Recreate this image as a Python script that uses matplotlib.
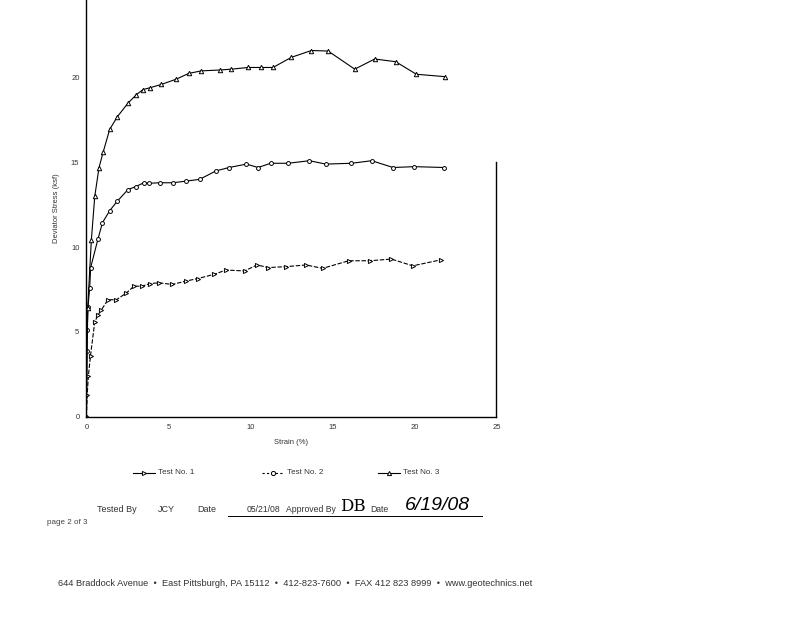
import matplotlib
matplotlib.use('Agg')
import matplotlib.pyplot as plt
from matplotlib.lines import Line2D

plt.rcParams['font.family'] = ['Liberation Sans', 'DejaVu Sans']

# datos
strain_1 = [0, 0.05, 0.12, 0.25, 0.51, 0.71, 0.91, 1.32, 1.83, 2.44, 2.9, 3.4, 3.86, 4.43, 5.24,
            6.06, 6.8, 7.8, 8.5, 9.65, 10.4, 11.1, 12.15, 13.4, 14.4, 16.0, 17.3, 18.6, 19.9, 21.6]
stress_1 = [0, 1.3, 2.4, 3.6, 5.6, 6.0, 6.3, 6.9, 6.9, 7.3, 7.7, 7.7, 7.85, 7.9, 7.8,
            8.0, 8.15, 8.4, 8.65, 8.6, 8.95, 8.8, 8.85, 8.95, 8.75, 9.2, 9.2, 9.3, 8.9, 9.25]

strain_2 = [0, 0.02, 0.05, 0.1, 0.2, 0.26, 0.71, 0.98, 1.42, 1.87, 2.54, 3.0, 3.5, 3.8, 4.5,
            5.28, 6.1, 6.9, 7.9, 8.7, 9.76, 10.47, 11.24, 12.3, 13.6, 14.6, 16.16, 17.4, 18.7, 20.0, 21.8]
stress_2 = [0, 3.9, 5.1, 6.5, 7.6, 8.8, 10.5, 11.45, 12.15, 12.7, 13.4, 13.57, 13.8, 13.77, 13.8,
            13.8, 13.9, 14.0, 14.5, 14.7, 14.9, 14.7, 14.95, 14.95, 15.1, 14.9, 14.95, 15.1, 14.7, 14.75, 14.7]

strain_3 = [0, 0.08, 0.3, 0.51, 0.77, 1.02, 1.42, 1.89, 2.54, 3.05, 3.46, 3.86, 4.57, 5.45, 6.24,
            7.01, 8.13, 8.84, 9.86, 10.63, 11.38, 12.5, 13.72, 14.74, 16.36, 17.58, 18.86, 20.12, 21.85]
stress_3 = [0, 6.4, 10.4, 13.0, 14.7, 15.6, 16.95, 17.7, 18.5, 19.0, 19.3, 19.4, 19.6, 19.9, 20.25,
            20.4, 20.45, 20.5, 20.6, 20.6, 20.6, 21.2, 21.6, 21.57, 20.5, 21.1, 20.94, 20.2, 20.06]

x_ticks = [0, 5, 10, 15, 20, 25]
y_ticks = [0, 5, 10, 15, 20]

fig = plt.figure(figsize=(8, 6.18), dpi=100)
ax = fig.add_axes([0.108, 0.3257, 0.5125, 0.6743])

ax.plot(strain_1, stress_1, color='black', lw=0.8, ls=(0, (4, 1.5)), marker='>',
        ms=3, mfc='white', mec='black', mew=0.7)
ax.plot(strain_2, stress_2, color='black', lw=0.8, marker='o',
        ms=2.8, mfc='white', mec='black', mew=0.7)
ax.plot(strain_3, stress_3, color='black', lw=0.8, marker='^',
        ms=3.2, mfc='white', mec='black', mew=0.7)

ax.set_xlim(0, 25)
ax.set_ylim(0, 24.58)
ax.set_xticks(x_ticks)
ax.set_yticks(y_ticks)
ax.tick_params(length=0, labelsize=5.5, colors='#333333', pad=5)
ax.spines['top'].set_visible(False)
ax.spines['right'].set_visible(False)
ax.spines['left'].set_linewidth(1.0)
ax.spines['bottom'].set_linewidth(1.0)
# trozo del borde derecho que se ve en el escaneo
ax.plot([25, 25], [0, 15.0], color='black', lw=1.0, clip_on=False)

ax.set_xlabel('Strain (%)', fontsize=5.5, color='#333333', labelpad=6)
ax.set_ylabel('Deviator Stress (ksf)', fontsize=5.5, color='#333333', labelpad=8)

# leyenda dibujada a mano
ley_y = 1 - 473 / 618
items = [(133, '>', '-', 'Test No. 1'), (262, 'o', (0, (2, 2)), 'Test No. 2'), (378, '^', '-', 'Test No. 3')]
for px, mk, ls, txt in items:
    x0 = px / 800
    x1 = (px + 22) / 800
    fig.add_artist(Line2D([x0, x1], [ley_y, ley_y], color='black', lw=0.8, ls=ls))
    fig.add_artist(Line2D([(x0 + x1) / 2], [ley_y], marker=mk, ms=3, mfc='white',
                          mec='black', mew=0.7, ls='none'))
    fig.text(x1 + 3 / 800, ley_y, txt, fontsize=5.8, color='#333333', va='center')

# pie de pagina
fy = 1 - 509 / 618
fig.text(97 / 800, fy, 'Tested By', fontsize=6.5, color='#333333', va='center')
fig.text(158 / 800, fy, 'JCY', fontsize=6.5, color='#333333', va='center')
fig.text(197 / 800, fy, 'Date', fontsize=6.5, color='#333333', va='center')
fig.text(247 / 800, fy, '05/21/08', fontsize=6.2, color='#333333', va='center')
fig.text(286 / 800, fy, 'Approved By', fontsize=6.2, color='#333333', va='center')
fig.text(340 / 800, fy + 0.004, 'DB', fontsize=12, color='black', va='center', family='DejaVu Serif')
fig.text(370 / 800, fy, 'Date', fontsize=6.2, color='#333333', va='center')
fig.text(405 / 800, fy + 0.005, '6/19/08', fontsize=14, color='black', va='center', style='italic')
fig.add_artist(Line2D([228 / 800, 482 / 800], [1 - 516 / 618, 1 - 516 / 618], color='black', lw=0.7))
fig.text(47 / 800, 1 - 522 / 618, 'page 2 of 3', fontsize=5.8, color='#444444', va='center')
fig.text(58 / 800, 1 - 583 / 618,
         '644 Braddock Avenue  \u2022  East Pittsburgh, PA 15112  \u2022  412-823-7600  \u2022  FAX 412 823 8999  \u2022  www.geotechnics.net',
         fontsize=6.7, color='#333333', va='center')

fig.savefig('out.png', dpi=100)
